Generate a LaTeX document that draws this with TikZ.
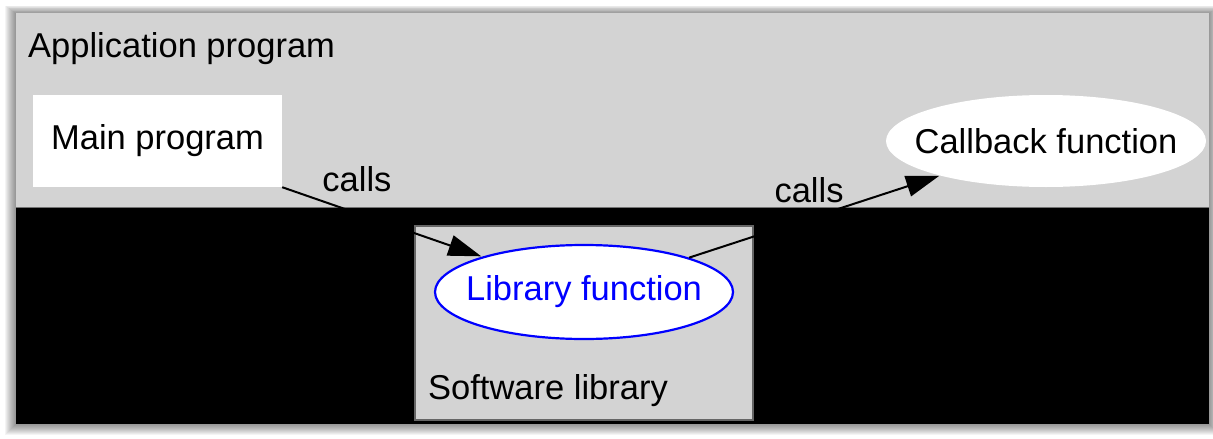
\documentclass[tikz,border=0pt]{standalone}
\usepackage{fontspec}
\setmainfont{Liberation Sans}
\usetikzlibrary{shapes.geometric,arrows.meta}
\definecolor{gvgray}{HTML}{D3D3D3}
\tikzset{
  lbl/.style={font=\fontsize{34.5}{40}\selectfont, inner sep=0pt},
  box/.style={fill=white, inner sep=0pt},
  oval/.style={ellipse, fill=white, inner sep=0pt},
  edge/.style={line width=2pt, -{Triangle[length=33pt,width=21pt]}, shorten >=1pt},
}
\newcommand{\zw}[1]{\makebox[0pt]{#1}}
\begin{document}
\begin{tikzpicture}[x=1pt,y=-1pt]
\useasboundingbox (0,0) rectangle (1213,439);
\fill[white] (0,0) rectangle (1213,439);
% soft shadow
\foreach \i in {1,...,12}{
  \fill[black, opacity=0.045] (17-\i,14-\i*0.7) rectangle (1208+\i,423+\i);
}
% application program (gray) and black area
\fill[gvgray] (16,13) rectangle (1209,208);
\fill[black] (16,208) rectangle (1209,424);
\draw[black!55, line width=1pt] (16,207.5) -- (1209,207.5);
% software library cluster
\node[draw=black!60, fill=gvgray, line width=1.5pt, minimum width=338, minimum height=194, inner sep=0pt] (swl) at (584,323) {};
\node[lbl, anchor=base west] (applbl) at (28,57) {Application program};
\node[lbl, anchor=base west] (swlbl) at (428,399) {Software library};
% nodes
\node[box, lbl, minimum width=249, minimum height=92] (main) at (157.5,141) {\raisebox{-4pt}{Main program}};
\node[oval, lbl, minimum width=320, minimum height=92] (cb) at (1046,141) {\zw{Callback function}};
\node[oval, lbl, draw=blue, text=blue, line width=2.2pt, minimum width=298, minimum height=94] (lib) at (584,292) {\zw{Library function}};
% edges
\draw[edge] (main.south east) -- (lib);
\draw[edge] (lib) -- (cb);
\node[lbl] (c1) at (357,179) {calls};
\node[lbl] (c2) at (809,190) {calls};
\end{tikzpicture}
\end{document}
